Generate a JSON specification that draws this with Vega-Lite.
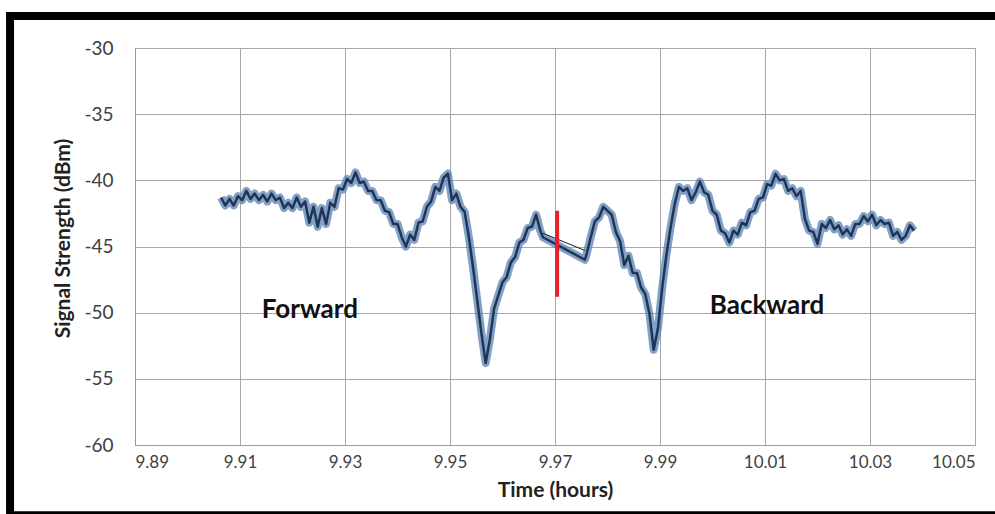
{
  "$schema": "https://vega.github.io/schema/vega-lite/v6.json",
  "width": 840,
  "height": 397,
  "autosize": {"type": "none"},
  "padding": {"left": 135, "top": 48, "right": 20, "bottom": 69},
  "background": "white",
  "config": {
    "font": "Lato",
    "view": {"stroke": "#9a9a9a", "strokeWidth": 1}
  },
  "datasets": {
    "sig": [
      {"t": 9.9064, "db": -41.3}, {"t": 9.9072, "db": -41.9}, {"t": 9.9080, "db": -41.4}, {"t": 9.9088, "db": -41.9},
      {"t": 9.9096, "db": -41.2}, {"t": 9.9104, "db": -41.5}, {"t": 9.9112, "db": -40.8}, {"t": 9.9120, "db": -41.4},
      {"t": 9.9128, "db": -41.0}, {"t": 9.9136, "db": -41.5}, {"t": 9.9144, "db": -41.1}, {"t": 9.9152, "db": -41.6},
      {"t": 9.9160, "db": -41.0}, {"t": 9.9168, "db": -41.5}, {"t": 9.9176, "db": -41.3}, {"t": 9.9184, "db": -42.1},
      {"t": 9.9192, "db": -41.7}, {"t": 9.9200, "db": -42.1}, {"t": 9.9208, "db": -41.3}, {"t": 9.9216, "db": -42.0},
      {"t": 9.9224, "db": -41.6}, {"t": 9.9232, "db": -43.2}, {"t": 9.9240, "db": -42.0}, {"t": 9.9248, "db": -43.5},
      {"t": 9.9256, "db": -42.1}, {"t": 9.9264, "db": -43.3}, {"t": 9.9272, "db": -41.7}, {"t": 9.9280, "db": -42.0},
      {"t": 9.9288, "db": -40.6}, {"t": 9.9296, "db": -40.7}, {"t": 9.9304, "db": -39.9}, {"t": 9.9312, "db": -40.2},
      {"t": 9.9320, "db": -39.4}, {"t": 9.9328, "db": -40.2}, {"t": 9.9336, "db": -40.1}, {"t": 9.9344, "db": -40.8},
      {"t": 9.9352, "db": -40.8}, {"t": 9.9360, "db": -41.5}, {"t": 9.9368, "db": -41.5}, {"t": 9.9376, "db": -42.3},
      {"t": 9.9384, "db": -42.4}, {"t": 9.9392, "db": -43.3}, {"t": 9.9400, "db": -43.3}, {"t": 9.9408, "db": -44.3},
      {"t": 9.9416, "db": -45.0}, {"t": 9.9424, "db": -44.1}, {"t": 9.9432, "db": -44.5}, {"t": 9.9440, "db": -43.2},
      {"t": 9.9448, "db": -43.1}, {"t": 9.9456, "db": -42.0}, {"t": 9.9464, "db": -41.6}, {"t": 9.9472, "db": -40.5},
      {"t": 9.9480, "db": -40.8}, {"t": 9.9488, "db": -39.8}, {"t": 9.9496, "db": -39.5}, {"t": 9.9504, "db": -41.5},
      {"t": 9.9512, "db": -41.0}, {"t": 9.9520, "db": -42.0}, {"t": 9.9528, "db": -42.4}, {"t": 9.9536, "db": -44.3},
      {"t": 9.9544, "db": -46.6}, {"t": 9.9552, "db": -49.1}, {"t": 9.9560, "db": -51.6}, {"t": 9.9568, "db": -53.8},
      {"t": 9.9576, "db": -52.0}, {"t": 9.9584, "db": -49.7}, {"t": 9.9592, "db": -48.7}, {"t": 9.9600, "db": -47.7},
      {"t": 9.9608, "db": -47.3}, {"t": 9.9616, "db": -46.2}, {"t": 9.9624, "db": -45.8}, {"t": 9.9632, "db": -44.7},
      {"t": 9.9640, "db": -44.5}, {"t": 9.9648, "db": -43.6}, {"t": 9.9656, "db": -43.5}, {"t": 9.9664, "db": -42.6},
      {"t": 9.9672, "db": -43.8}, {"t": 9.9677, "db": -44.3}, {"t": 9.9757, "db": -46.0}, {"t": 9.9760, "db": -45.6},
      {"t": 9.9768, "db": -44.3}, {"t": 9.9776, "db": -43.1}, {"t": 9.9784, "db": -42.8}, {"t": 9.9792, "db": -42.0},
      {"t": 9.9800, "db": -42.3}, {"t": 9.9808, "db": -42.6}, {"t": 9.9816, "db": -43.9}, {"t": 9.9824, "db": -44.6},
      {"t": 9.9832, "db": -46.4}, {"t": 9.9840, "db": -45.7}, {"t": 9.9848, "db": -47.0}, {"t": 9.9856, "db": -47.0},
      {"t": 9.9864, "db": -48.1}, {"t": 9.9872, "db": -48.6}, {"t": 9.9880, "db": -50.1}, {"t": 9.9888, "db": -52.8},
      {"t": 9.9896, "db": -51.2}, {"t": 9.9904, "db": -48.2}, {"t": 9.9912, "db": -45.7}, {"t": 9.9920, "db": -43.6},
      {"t": 9.9928, "db": -41.8}, {"t": 9.9936, "db": -40.5}, {"t": 9.9944, "db": -40.8}, {"t": 9.9952, "db": -40.6},
      {"t": 9.9960, "db": -41.5}, {"t": 9.9968, "db": -40.9}, {"t": 9.9976, "db": -40.1}, {"t": 9.9984, "db": -40.9},
      {"t": 9.9992, "db": -41.1}, {"t": 10.0000, "db": -42.3}, {"t": 10.0008, "db": -42.6}, {"t": 10.0016, "db": -43.8},
      {"t": 10.0024, "db": -44.0}, {"t": 10.0032, "db": -44.7}, {"t": 10.0040, "db": -43.8}, {"t": 10.0048, "db": -44.1},
      {"t": 10.0056, "db": -43.2}, {"t": 10.0064, "db": -43.4}, {"t": 10.0072, "db": -42.4}, {"t": 10.0080, "db": -42.3},
      {"t": 10.0088, "db": -41.4}, {"t": 10.0096, "db": -41.3}, {"t": 10.0104, "db": -40.3}, {"t": 10.0112, "db": -40.4},
      {"t": 10.0120, "db": -39.5}, {"t": 10.0128, "db": -40.0}, {"t": 10.0136, "db": -39.9}, {"t": 10.0144, "db": -40.8},
      {"t": 10.0152, "db": -40.6}, {"t": 10.0160, "db": -41.2}, {"t": 10.0168, "db": -40.8}, {"t": 10.0176, "db": -42.9},
      {"t": 10.0184, "db": -43.8}, {"t": 10.0192, "db": -43.9}, {"t": 10.0200, "db": -44.8}, {"t": 10.0208, "db": -43.3},
      {"t": 10.0216, "db": -43.6}, {"t": 10.0224, "db": -43.0}, {"t": 10.0232, "db": -43.7}, {"t": 10.0240, "db": -43.4},
      {"t": 10.0248, "db": -44.1}, {"t": 10.0256, "db": -43.7}, {"t": 10.0264, "db": -44.2}, {"t": 10.0272, "db": -43.3},
      {"t": 10.0280, "db": -43.3}, {"t": 10.0288, "db": -42.7}, {"t": 10.0296, "db": -43.1}, {"t": 10.0304, "db": -42.6},
      {"t": 10.0312, "db": -43.4}, {"t": 10.0320, "db": -43.0}, {"t": 10.0328, "db": -43.3}, {"t": 10.0336, "db": -43.2},
      {"t": 10.0344, "db": -44.2}, {"t": 10.0352, "db": -43.9}, {"t": 10.0360, "db": -44.5}, {"t": 10.0368, "db": -44.2},
      {"t": 10.0376, "db": -43.4}, {"t": 10.0384, "db": -43.8}
    ],
    "link": [
      {"t": 9.9677, "db": -44.0},
      {"t": 9.9757, "db": -45.3}
    ],
    "labels": [
      {"t": 9.9233, "db": -49.8, "text": "Forward"},
      {"t": 10.0104, "db": -49.5, "text": "Backward"}
    ],
    "marker": [
      {"t": 9.9704, "top": -42.3, "bottom": -48.8}
    ],
    "frame": [
      {"x1": 9.8662, "x2": 10.07, "y1": -27.58, "y2": -65.3}
    ]
  },
  "layer": [
    {
      "data": {"name": "sig"},
      "mark": {"type": "line", "color": "#5a80b3", "strokeWidth": 8, "opacity": 0.75, "strokeJoin": "round"},
      "encoding": {
        "x": {
          "field": "t", "type": "quantitative",
          "scale": {"domain": [9.89, 10.05], "nice": false, "zero": false},
          "axis": {
            "values": [9.89, 9.91, 9.93, 9.95, 9.97, 9.99, 10.01, 10.03, 10.05],
            "format": ".2f",
            "title": "Time (hours)",
            "titleFont": "Lato", "titleFontSize": 21, "titleFontWeight": "bold", "titleColor": "#222222",
            "titlePadding": 9,
            "labelFont": "Lato", "labelFontSize": 17, "labelColor": "#404040", "labelPadding": 9,
            "ticks": false, "domainColor": "#9a9a9a",
            "grid": true, "gridColor": "#a8a8a8", "gridWidth": 1
          }
        },
        "y": {
          "field": "db", "type": "quantitative",
          "scale": {"domain": [-60, -30], "nice": false, "zero": false},
          "axis": {
            "values": [-60, -55, -50, -45, -40, -35, -30],
            "labelExpr": "'' + datum.value",
            "title": "Signal Strength (dBm)",
            "titleFont": "Lato", "titleFontSize": 21, "titleFontWeight": "bold", "titleColor": "#222222",
            "titlePadding": 10,
            "titleY": 190,
            "labelFont": "Lato", "labelFontSize": 19, "labelColor": "#404040", "labelPadding": 22,
            "ticks": false, "domainColor": "#9a9a9a",
            "grid": true, "gridColor": "#a8a8a8", "gridWidth": 1
          }
        }
      }
    },
    {
      "data": {"name": "sig"},
      "mark": {"type": "line", "color": "#1f3556", "strokeWidth": 2.5, "strokeJoin": "round"},
      "encoding": {
        "x": {"field": "t", "type": "quantitative"},
        "y": {"field": "db", "type": "quantitative"}
      }
    },
    {
      "data": {"name": "link"},
      "mark": {"type": "line", "color": "#1a1a1a", "strokeWidth": 1},
      "encoding": {
        "x": {"field": "t", "type": "quantitative"},
        "y": {"field": "db", "type": "quantitative"}
      }
    },
    {
      "data": {"name": "marker"},
      "mark": {"type": "rule", "color": "#e8202a", "strokeWidth": 4},
      "encoding": {
        "x": {"field": "t", "type": "quantitative"},
        "y": {"field": "top", "type": "quantitative"},
        "y2": {"field": "bottom"}
      }
    },
    {
      "data": {"name": "labels"},
      "mark": {"type": "text", "font": "Lato", "fontSize": 26, "fontWeight": "bold", "color": "#111111", "align": "center", "baseline": "middle"},
      "encoding": {
        "x": {"field": "t", "type": "quantitative"},
        "y": {"field": "db", "type": "quantitative"},
        "text": {"field": "text"}
      }
    },
    {
      "data": {"name": "frame"},
      "mark": {"type": "rect", "fill": null, "stroke": "#000000", "strokeWidth": 8, "clip": false},
      "encoding": {
        "x": {"field": "x1", "type": "quantitative"},
        "x2": {"field": "x2"},
        "y": {"field": "y1", "type": "quantitative"},
        "y2": {"field": "y2"}
      }
    }
  ]
}
